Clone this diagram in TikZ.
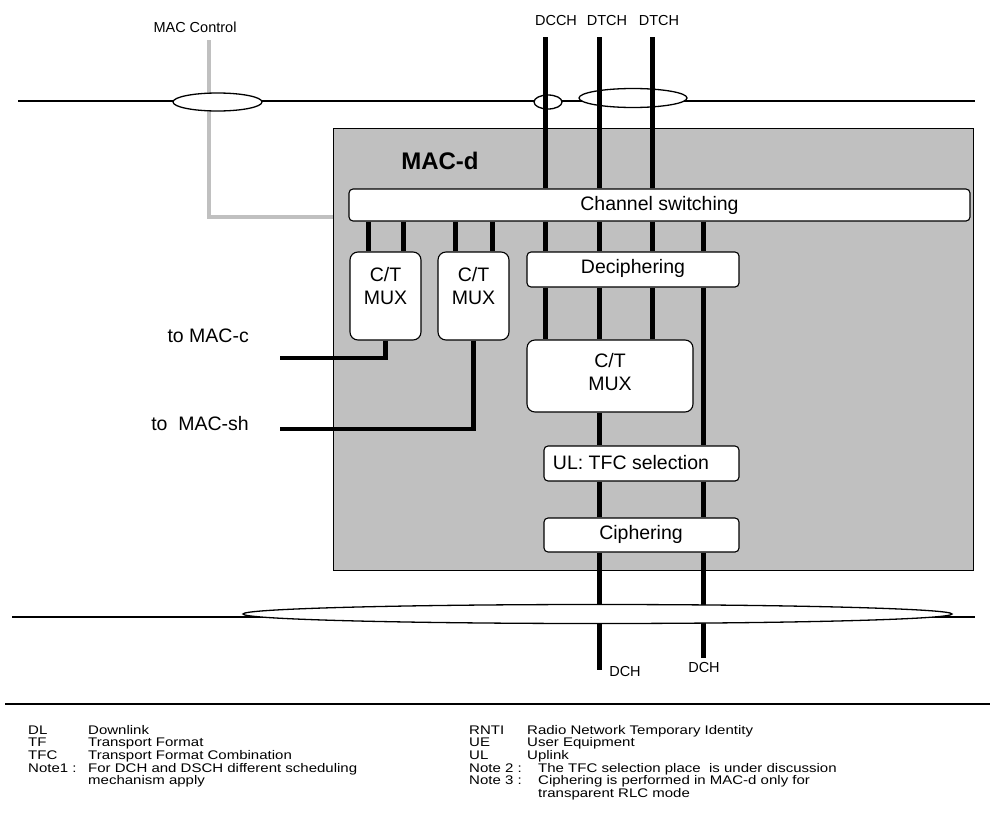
\documentclass[tikz,border=0pt]{standalone}
\usepackage{tikz}
\usepackage{fontspec}
\setmainfont{Liberation Sans}
\usetikzlibrary{shapes.geometric}
\definecolor{macgray}{HTML}{C0C0C0}
\definecolor{ctrlgray}{HTML}{C0C0C0}
\newcommand{\lgw}[1]{\scalebox{1.2}[1]{#1}}
\begin{document}
\begin{tikzpicture}[x=1pt,y=-1pt,
  box/.style={draw=black, line width=1.1pt, fill=white, rounded corners=4pt, inner sep=0pt},
  muxbox/.style={box, rounded corners=8pt},
  ch/.style={line width=5pt, black},
  feed/.style={line width=4.5pt, black},
  ctrl/.style={line width=4pt, draw=ctrlgray},
  rail/.style={line width=1.5pt, black},
  ell/.style={ellipse, draw=black, line width=1.3pt, fill=white, inner sep=0pt},
  big/.style={font=\fontsize{19.5}{23}\selectfont, align=center, inner sep=0pt},
  small/.style={font=\fontsize{14.5}{17}\selectfont, inner sep=0pt},
  leg/.style={font=\fontsize{12.5}{13}\selectfont, anchor=base west, inner sep=0pt},
]
\useasboundingbox (0,0) rectangle (990,819);

% MAC-d area
\node[draw=black, line width=0.8pt, fill=macgray, minimum width=640pt, minimum height=442pt, inner sep=0pt] (macd) at (653,349) {};
\node[font=\fontsize{24}{28}\selectfont\bfseries, inner sep=0pt] (macdt) at (440,161) {MAC-d};

% named coordinates
\coordinate (macctl) at (209,40);
\coordinate (ctlend) at (333,217);
\coordinate (dcch) at (545,37);
\coordinate (dtcha) at (599,37);
\coordinate (dtchb) at (652,37);
\coordinate (colD) at (703,0);
\coordinate (ma) at (368,0);
\coordinate (mb) at (403,0);
\coordinate (mc) at (455,0);
\coordinate (md) at (492,0);
\coordinate (topL) at (18,101);
\coordinate (topR) at (975,101);
\coordinate (botL) at (12,617);
\coordinate (botR) at (975,617);
\coordinate (macc) at (280,358);
\coordinate (macsh) at (280,429);
\coordinate (dch1) at (599,670);
\coordinate (dch2) at (703,658);
\coordinate (sepL) at (5,704);
\coordinate (sepR) at (990,704);

% MAC control (grey)
\draw[ctrl] (macctl) |- (ctlend);

% top rail and ellipses
\draw[rail] (topL) -- (topR);
\node[ell, minimum width=89pt, minimum height=18pt] (e1) at (217.5,102) {};
\node[ell, minimum width=28pt, minimum height=14pt] (e2) at (548,102) {};
\node[ell, minimum width=108pt, minimum height=19pt] (e3) at (633,98) {};

% top labels
\node[small] (lctl) at (195,27) {MAC Control};
\node[small] (ldcch) at (556,21) {DCCH};
\node[small] (ldtcha) at (607,21) {DTCH};
\node[small] (ldtchb) at (659,21) {DTCH};

% boxes
\node[box, minimum width=621pt, minimum height=32pt] (cs) at (659.5,205) {};
\node[big] (cst) at (659.5,205) {Channel switching};
\node[muxbox, minimum width=71pt, minimum height=88pt] (mux1) at (385.5,296) {};
\node[big] (mux1t) at (385.5,286.5) {C/T\\MUX};
\node[muxbox, minimum width=71pt, minimum height=88pt] (mux2) at (473.5,296) {};
\node[big] (mux2t) at (473.5,286.5) {C/T\\MUX};

% vertical channels from the top
\draw[ch] (dcch) -- (dcch |- cs.north);
\draw[ch] (dtcha) -- (dtcha |- cs.north);
\draw[ch] (dtchb) -- (dtchb |- cs.north);

\node[box, minimum width=212pt, minimum height=35pt] (dec) at (633,269.5) {};
\node[big] (dect) at (633,268) {Deciphering};
\node[muxbox, minimum width=166pt, minimum height=72pt] (mux3) at (610,376) {};
\node[big] (mux3t) at (610,372) {C/T\\MUX};
\node[box, minimum width=195pt, minimum height=35pt] (tfc) at (641.5,463.5) {};
\node[big] (tfct) at (631,463) {UL: TFC selection};
\node[box, minimum width=195pt, minimum height=34pt] (ciph) at (641.5,535) {};
\node[big] (cipht) at (641,534) {Ciphering};

% channel switching to C/T MUX boxes
\draw[ch] (cs.south -| ma) -- (mux1.north -| ma);
\draw[ch] (cs.south -| mb) -- (mux1.north -| mb);
\draw[ch] (cs.south -| mc) -- (mux2.north -| mc);
\draw[ch] (cs.south -| md) -- (mux2.north -| md);

% dedicated channels
\draw[ch] (cs.south -| dcch) -- (dec.north -| dcch);
\draw[ch] (cs.south -| dtcha) -- (dec.north -| dtcha);
\draw[ch] (cs.south -| dtchb) -- (dec.north -| dtchb);
\draw[ch] (cs.south -| colD) -- (dec.north -| colD);
\draw[ch] (dec.south -| dcch) -- (mux3.north -| dcch);
\draw[ch] (dec.south -| dtcha) -- (mux3.north -| dtcha);
\draw[ch] (dec.south -| dtchb) -- (mux3.north -| dtchb);
\draw[ch] (dec.south -| colD) -- (tfc.north -| colD);
\draw[ch] (mux3.south -| dtcha) -- (tfc.north -| dtcha);
\draw[ch] (tfc.south -| dtcha) -- (ciph.north -| dtcha);
\draw[ch] (tfc.south -| colD) -- (ciph.north -| colD);
\draw[ch] (ciph.south -| dtcha) -- (dch1);
\draw[ch] (ciph.south -| colD) -- (dch2);

% to MAC-c / MAC-sh
\draw[feed] (mux1.south) |- (macc);
\draw[feed] (mux2.south) |- (macsh);
\node[big, anchor=base east] (tmacc) at (249,342) {to MAC-c};
\node[big, anchor=base east] (tmacsh) at (249,430) {to~ MAC-sh};

% bottom rail and ellipse
\draw[rail] (botL) -- (botR);
\node[ell, minimum width=709pt, minimum height=19pt] (ebot) at (597.5,614) {};
\node[small] (ldch1) at (625,671) {DCH};
\node[small] (ldch2) at (704,667) {DCH};

% legend
\draw[rail] (sepL) -- (sepR);
\node[leg] (a1) at (28,734) {\lgw{DL}};
\node[leg] (d1) at (88,734) {\lgw{Downlink}};
\node[leg] (a2) at (28,746.7) {\lgw{TF}};
\node[leg] (d2) at (88,746.7) {\lgw{Transport Format}};
\node[leg] (a3) at (28,759.4) {\lgw{TFC}};
\node[leg] (d3) at (88,759.4) {\lgw{Transport Format Combination}};
\node[leg] (a4) at (28,772.1) {\lgw{Note1 :}};
\node[leg] (d4) at (88,772.1) {\lgw{For DCH and DSCH different scheduling}};
\node[leg] (d5) at (88,784.8) {\lgw{mechanism apply}};
\node[leg] (b1) at (469,734) {\lgw{RNTI}};
\node[leg] (e1t) at (527,734) {\lgw{Radio Network Temporary Identity}};
\node[leg] (b2) at (469,746.7) {\lgw{UE}};
\node[leg] (e2t) at (527,746.7) {\lgw{User Equipment}};
\node[leg] (b3) at (469,759.4) {\lgw{UL}};
\node[leg] (e3t) at (527,759.4) {\lgw{Uplink}};
\node[leg] (b4) at (469,772.1) {\lgw{Note 2 :}};
\node[leg] (e4t) at (538,772.1) {\lgw{The TFC selection place\ \ is under discussion}};
\node[leg] (b5) at (469,784.8) {\lgw{Note 3 :}};
\node[leg] (e5t) at (538,784.8) {\lgw{Ciphering is performed in MAC-d only for}};
\node[leg] (e6t) at (538,797.5) {\lgw{transparent RLC mode}};
\end{tikzpicture}
\end{document}
